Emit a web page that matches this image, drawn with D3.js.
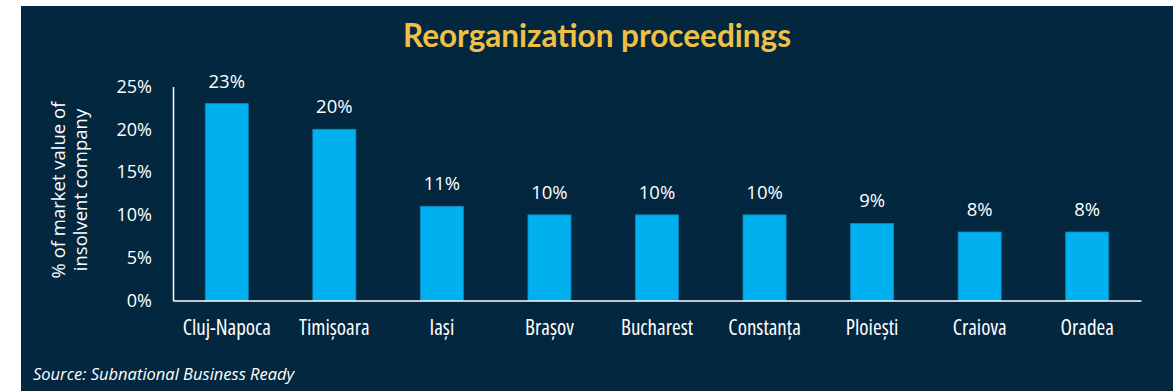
<!DOCTYPE html>
<html>
<head>
<meta charset="utf-8">
<script src="https://cdn.jsdelivr.net/npm/d3@7"></script>
<style>
  html, body { margin: 0; padding: 0; background: #ffffff; }
  svg { display: block; }
</style>
</head>
<body>
<svg id="chart" width="1173" height="391"></svg>
<script>
// Reorganization proceedings: cost as % of market value of insolvent company
const cities = ["Cluj-Napoca", "Timișoara", "Iași", "Brașov", "Bucharest", "Constanța", "Ploiești", "Craiova", "Oradea"];
const costs = [23, 20, 11, 10, 10, 10, 9, 8, 8];
const yTicks = [0, 5, 10, 15, 20, 25];
const titleText = "Reorganization proceedings";
const yTitleLines = ["% of market value of", "insolvent company"];
const sourceText = "Source: Subnational Business Ready";

const W = 1173, H = 391;
const svg = d3.select("#chart");

// dark panel
svg.append("rect")
  .attr("x", 21).attr("y", 6)
  .attr("width", W - 21).attr("height", H - 6)
  .attr("fill", "#02273f");

const x = d3.scaleBand()
  .domain(cities)
  .range([173, 1141])
  .paddingInner(0.6)
  .paddingOuter(0.3);

const y = d3.scaleLinear()
  .domain([0, 25])
  .range([300.5, 86.5]);

// title
svg.append("text")
  .attr("x", 597).attr("y", 47)
  .attr("text-anchor", "middle")
  .attr("font-family", "Lato, 'Open Sans', sans-serif")
  .attr("font-weight", "bold")
  .attr("font-size", 31.5)
  .attr("fill", "#f0c044")
  .text(titleText);

// bars
svg.append("g").selectAll("rect")
  .data(cities)
  .join("rect")
  .attr("x", d => x(d))
  .attr("y", (d, i) => y(costs[i]))
  .attr("width", x.bandwidth())
  .attr("height", (d, i) => y(0) - y(costs[i]))
  .attr("fill", "#00b0ef")
  .attr("stroke", "#0a8ac4")
  .attr("stroke-width", 0.8);

// value labels
svg.append("g").selectAll("text")
  .data(cities)
  .join("text")
  .attr("x", d => x(d) + x.bandwidth() / 2)
  .attr("y", (d, i) => y(costs[i]) - 16)
  .attr("text-anchor", "middle")
  .attr("font-family", "'Open Sans', sans-serif")
  .attr("font-size", 18.5)
  .attr("fill", "#ffffff")
  .text((d, i) => costs[i] + "%");

// y axis
const yAxis = svg.append("g")
  .attr("transform", "translate(173,0)")
  .call(d3.axisLeft(y).tickValues(yTicks).tickSize(0).tickPadding(21).tickFormat(d => d + "%"));
yAxis.select(".domain").attr("stroke", "#ffffff").attr("stroke-width", 1.5);
yAxis.selectAll("text")
  .attr("font-family", "'Open Sans', sans-serif")
  .attr("font-size", 18)
  .attr("fill", "#ffffff");

// x axis
const xAxis = svg.append("g")
  .attr("transform", "translate(0,300.5)")
  .call(d3.axisBottom(x).tickSize(0).tickPadding(20));
xAxis.select(".domain").attr("stroke", "#ffffff").attr("stroke-width", 1.5);
xAxis.selectAll("text")
  .attr("font-family", "'Liberation Sans Narrow', 'Open Sans', sans-serif")
  .attr("font-stretch", "condensed")
  .attr("font-size", 21)
  .attr("fill", "#ffffff");

// y axis title
const yTitle = svg.append("text")
  .attr("transform", "translate(0,190) rotate(-90)")
  .attr("text-anchor", "middle")
  .attr("font-family", "'Open Sans', sans-serif")
  .attr("font-size", 18.5)
  .attr("fill", "#ffffff");
yTitle.selectAll("tspan")
  .data(yTitleLines)
  .join("tspan")
  .attr("x", 0)
  .attr("y", (d, i) => 65 + i * 22)
  .text(d => d);

// source note
svg.append("text")
  .attr("x", 33).attr("y", 380)
  .attr("font-family", "'Open Sans', sans-serif")
  .attr("font-style", "italic")
  .attr("font-size", 16.5)
  .attr("fill", "#ffffff")
  .text(sourceText);
</script>
</body>
</html>
